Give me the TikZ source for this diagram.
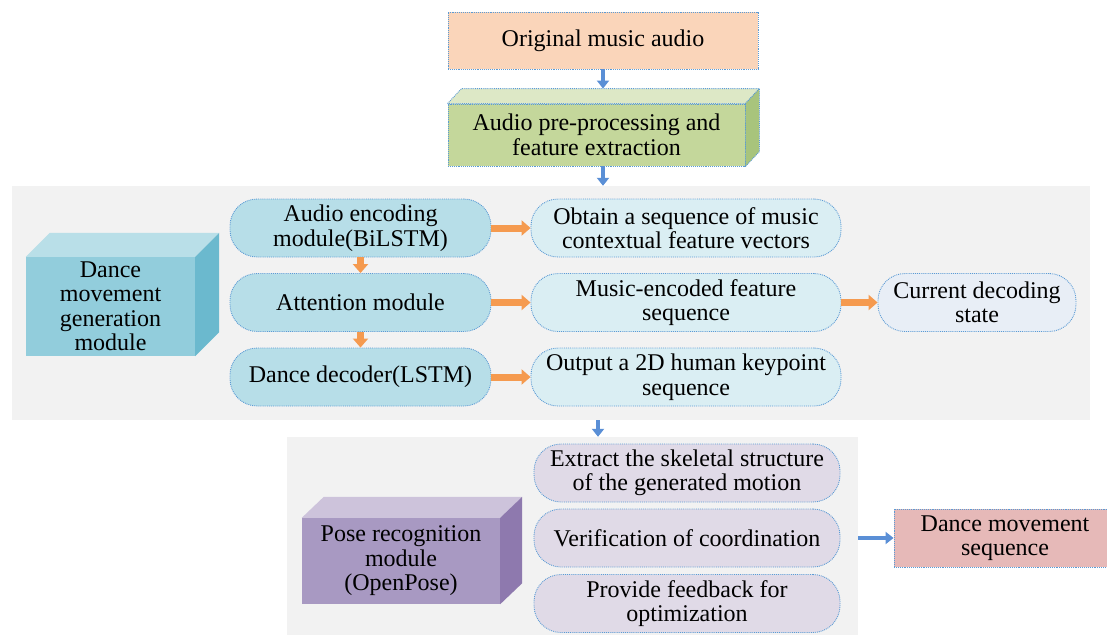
\documentclass[tikz,border=0pt]{standalone}
\usepackage{fontspec}
\setmainfont{Liberation Serif}
\usepackage{tikz}
\usetikzlibrary{arrows.meta}
\definecolor{origfill}{HTML}{FAD5BA}
\definecolor{greenfront}{HTML}{C4D79B}
\definecolor{greentop}{HTML}{DDE8C6}
\definecolor{greenside}{HTML}{A8C47C}
\definecolor{panelgrey}{HTML}{F2F2F2}
\definecolor{tealfront}{HTML}{92CDDC}
\definecolor{tealtop}{HTML}{B9DFE8}
\definecolor{tealside}{HTML}{6BB9CE}
\definecolor{encfill}{HTML}{B7DEE8}
\definecolor{outfill}{HTML}{DAEEF3}
\definecolor{statefill}{HTML}{E8EEF6}
\definecolor{purpfront}{HTML}{A899C2}
\definecolor{purptop}{HTML}{CDC3DB}
\definecolor{purpside}{HTML}{8E79AE}
\definecolor{purpbox}{HTML}{E0DAE7}
\definecolor{seqfill}{HTML}{E6B9B8}
\definecolor{dotblue}{HTML}{5B9BD5}
\definecolor{arrowblue}{HTML}{5A8FD6}
\definecolor{arroworange}{HTML}{F59A4F}
\tikzset{
  every node/.style={font=\rmfamily\fontsize{24}{24.5}\selectfont},
  boxline/.style={draw=dotblue, densely dotted, line width=0.9pt},
  plainbox/.style={boxline, rectangle, inner sep=0pt, align=center},
  roundbox/.style={boxline, rounded corners=27pt, inner sep=0pt, align=center, minimum height=58pt},
  cubeface/.style={inner sep=0pt, align=center},
  bluearrow/.style={draw=arrowblue, line width=4.5pt, -{Triangle[width=12pt,length=8pt]}},
  orangearrow/.style={draw=arroworange, line width=7pt, -{Triangle[width=15pt,length=9pt]}}
}

\begin{document}
\begin{tikzpicture}[x=1pt, y=-1pt, >=Stealth]
			\useasboundingbox (0,0) rectangle (1107,634);
			% grey panels
			\node[fill=panelgrey, inner sep=0pt, minimum width=1078pt, minimum height=234pt] (panelA) at (551,303) {};
			\node[fill=panelgrey, inner sep=0pt, minimum width=571pt, minimum height=200pt] (panelB) at (572.5,537) {};
			% input
			\node[plainbox, fill=origfill, minimum width=310pt, minimum height=57pt] (orig) at (603,40.5) {Original music audio};
			\node[plainbox, fill=greenfront, minimum width=297pt, minimum height=62pt] (prep) at (596.5,135) {Audio pre-processing and\\feature extraction};
			\filldraw[boxline, fill=greentop] (prep.north west) -- ++(14,-15) coordinate (prepTop) -- ([shift={(14,-15)}]prep.north east) -- (prep.north east) -- cycle;
			\filldraw[boxline, fill=greenside] (prep.north east) -- ++(14,-15) -- ([shift={(14,-15)}]prep.south east) -- (prep.south east) -- cycle;
			% dance movement generation module
			\node[cubeface, fill=tealfront, minimum width=169pt, minimum height=99pt] (dmg) at (110.5,306.5) {Dance\\movement\\generation\\module};
			\fill[tealtop] (dmg.north west) -- ++(24,-24) -- ([shift={(24,-24)}]dmg.north east) -- (dmg.north east) -- cycle;
			\fill[tealside] (dmg.north east) -- ++(24,-24) -- ([shift={(24,-24)}]dmg.south east) -- (dmg.south east) -- cycle;
			\node[roundbox, fill=encfill, minimum width=261pt] (enc) at (360.5,228) {Audio encoding\\module(BiLSTM)};
			\node[roundbox, fill=encfill, minimum width=261pt] (att) at (360.5,302.5) {Attention module};
			\node[roundbox, fill=encfill, minimum width=261pt] (dec) at (360.5,377) {Dance decoder(LSTM)};
			\node[roundbox, fill=outfill, minimum width=310pt] (ctx) at (686,228) {Obtain a sequence of music\\contextual feature vectors};
			\node[roundbox, fill=outfill, minimum width=310pt] (mef) at (686,302.5) {Music-encoded feature\\sequence};
			\node[roundbox, fill=outfill, minimum width=310pt] (kps) at (686,377) {Output a 2D human keypoint\\sequence};
			\node[roundbox, fill=statefill, minimum width=198pt] (cds) at (977,302.5) {Current decoding\\state};
			% pose recognition module
			\node[cubeface, fill=purpfront, minimum width=198pt, minimum height=86pt] (pose) at (401,561) {Pose recognition\\module\\(OpenPose)};
			\fill[purptop] (pose.north west) -- ++(22,-21) -- ([shift={(22,-21)}]pose.north east) -- (pose.north east) -- cycle;
			\fill[purpside] (pose.north east) -- ++(22,-21) -- ([shift={(22,-21)}]pose.south east) -- (pose.south east) -- cycle;
			\node[roundbox, fill=purpbox, minimum width=306pt] (skel) at (687,473) {Extract the skeletal structure\\of the generated motion};
			\node[roundbox, fill=purpbox, minimum width=306pt] (coord) at (687,538) {Verification of coordination};
			\node[roundbox, fill=purpbox, minimum width=306pt] (feed) at (687,603.5) {Provide feedback for\\optimization};
			% output
			\node[plainbox, fill=seqfill, minimum width=222pt, minimum height=58pt] (seq) at (1005,538) {Dance movement\\sequence};
			% arrows
			\coordinate (gap) at (598,428);
			\draw[bluearrow] (orig.south) -- (orig.south |- prepTop);
			\draw[bluearrow] (prep.south -| orig.south) -- (panelA.north -| orig.south);
			\draw[bluearrow] (panelA.south -| gap) -- (panelB.north -| gap);
			\draw[bluearrow] (panelB.east |- coord) -- (seq.west);
			\draw[orangearrow] (enc.south) -- (att.north);
			\draw[orangearrow] (att.south) -- (dec.north);
			\draw[orangearrow] (enc.east) -- (ctx.west);
			\draw[orangearrow] (att.east) -- (mef.west);
			\draw[orangearrow] (dec.east) -- (kps.west);
			\draw[orangearrow] (mef.east) -- (cds.west);
		\end{tikzpicture}
\end{document}
